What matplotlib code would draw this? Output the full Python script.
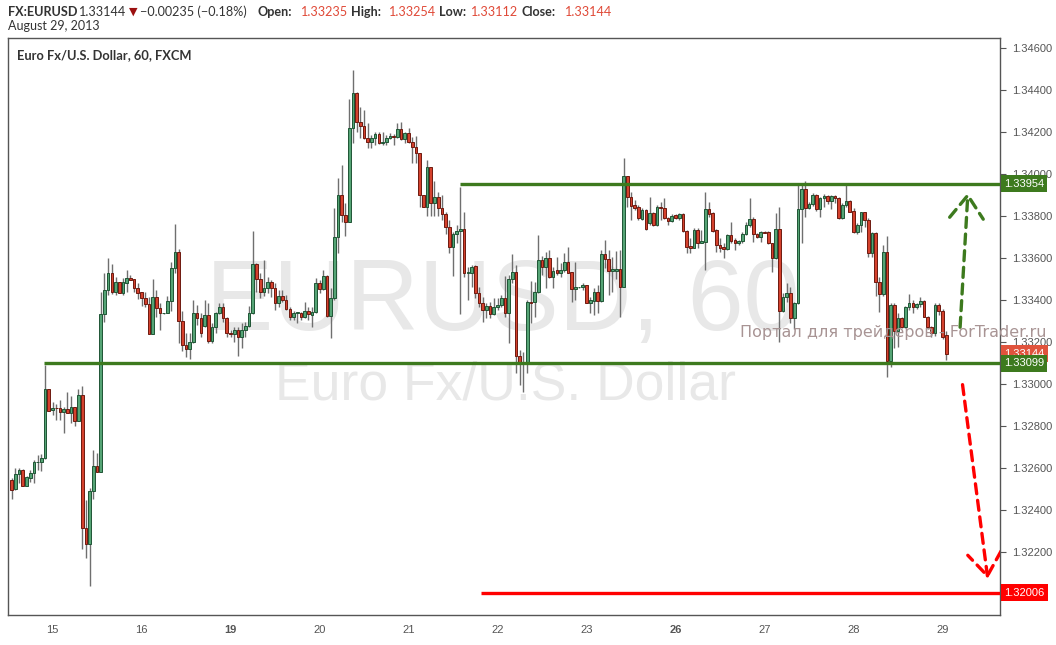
import matplotlib
matplotlib.use('Agg')
import matplotlib.pyplot as plt
import matplotlib.transforms as mtransforms
from matplotlib.patches import FancyArrowPatch

# EUR/USD, 1 hour bars, Aug 14 - Aug 29 2013 (FXCM)
opens = [
    1.32543, 1.32498, 1.32570, 1.32589, 1.32516, 1.32554, 1.32575, 1.32627, 1.32627, 1.32646,
    1.32975, 1.32875, 1.32887, 1.32886, 1.32868, 1.32881, 1.32864, 1.32889, 1.32825, 1.32948,
    1.32313, 1.32237, 1.32490, 1.32610, 1.32583, 1.33333, 1.33448, 1.33527, 1.33440, 1.33484,
    1.33432, 1.33483, 1.33503, 1.33498, 1.33456, 1.33437, 1.33408, 1.33379, 1.33236, 1.33413,
    1.33360, 1.33336, 1.33336, 1.33394, 1.33550, 1.33630, 1.33302, 1.33184, 1.33165, 1.33198,
    1.33337, 1.33313, 1.33278, 1.33329, 1.33206, 1.33270, 1.33337, 1.33368, 1.33313, 1.33245,
    1.33237, 1.33257, 1.33222, 1.33257, 1.33278, 1.33337, 1.33571, 1.33499, 1.33440, 1.33456,
    1.33484, 1.33456, 1.33384, 1.33419, 1.33400, 1.33357, 1.33317, 1.33339, 1.33340, 1.33317,
    1.33349, 1.33330, 1.33345, 1.33479, 1.33451, 1.33514, 1.33325, 1.33408, 1.33699, 1.33900,
    1.33805, 1.33773, 1.34218, 1.34384, 1.34246, 1.34229, 1.34173, 1.34154, 1.34170, 1.34190,
    1.34149, 1.34152, 1.34170, 1.34181, 1.34176, 1.34213, 1.34165, 1.34197, 1.34154, 1.34127,
    1.34099, 1.33900, 1.33841, 1.34032, 1.33860, 1.33889, 1.33837, 1.33809, 1.33746, 1.33651,
    1.33714, 1.33730, 1.33736, 1.33530, 1.33530, 1.33562, 1.33435, 1.33387, 1.33350, 1.33371,
    1.33332, 1.33368, 1.33376, 1.33408, 1.33337, 1.33498, 1.33532, 1.33135, 1.33106, 1.33098,
    1.33389, 1.33389, 1.33440, 1.33591, 1.33559, 1.33599, 1.33508, 1.33541, 1.33530, 1.33541,
    1.33579, 1.33532, 1.33451, 1.33460, 1.33460, 1.33471, 1.33387, 1.33397, 1.33437, 1.33397,
    1.33619, 1.33594, 1.33538, 1.33540, 1.33547, 1.33464, 1.33990, 1.33889, 1.33852, 1.33844,
    1.33787, 1.33829, 1.33768, 1.33816, 1.33757, 1.33841, 1.33836, 1.33789, 1.33778, 1.33803,
    1.33789, 1.33809, 1.33730, 1.33657, 1.33649, 1.33733, 1.33673, 1.33678, 1.33832, 1.33813,
    1.33733, 1.33660, 1.33651, 1.33641, 1.33708, 1.33686, 1.33670, 1.33681, 1.33714, 1.33757,
    1.33784, 1.33713, 1.33702, 1.33723, 1.33722, 1.33670, 1.33598, 1.33736, 1.33349, 1.33413,
    1.33432, 1.33313, 1.33384, 1.33832, 1.33927, 1.33836, 1.33855, 1.33900, 1.33832, 1.33887,
    1.33895, 1.33873, 1.33895, 1.33884, 1.33789, 1.33852, 1.33871, 1.33824, 1.33722, 1.33757,
    1.33817, 1.33781, 1.33622, 1.33717, 1.33484, 1.33427, 1.33628, 1.33111, 1.33376, 1.33250,
    1.33313, 1.33273, 1.33365, 1.33384, 1.33368, 1.33379, 1.33395, 1.33321, 1.33273, 1.33244,
    1.33376, 1.33349, 1.33235,
]
highs = [
    1.32550, 1.32598, 1.32598, 1.32594, 1.32562, 1.32590, 1.32638, 1.32662, 1.32665, 1.33090,
    1.32975, 1.32916, 1.32905, 1.32924, 1.32892, 1.32962, 1.32944, 1.32892, 1.32975, 1.32991,
    1.32448, 1.32503, 1.32686, 1.32670, 1.33437, 1.33527, 1.33600, 1.33570, 1.33508, 1.33484,
    1.33503, 1.33543, 1.33519, 1.33498, 1.33483, 1.33440, 1.33437, 1.33416, 1.33500, 1.33448,
    1.33384, 1.33340, 1.33419, 1.33580, 1.33760, 1.33645, 1.33347, 1.33241, 1.33241, 1.33400,
    1.33376, 1.33337, 1.33400, 1.33384, 1.33289, 1.33345, 1.33384, 1.33384, 1.33321, 1.33257,
    1.33273, 1.33273, 1.33289, 1.33297, 1.33373, 1.33729, 1.33578, 1.33527, 1.33590, 1.33511,
    1.33495, 1.33480, 1.33448, 1.33448, 1.33424, 1.33368, 1.33349, 1.33345, 1.33345, 1.33389,
    1.33365, 1.33368, 1.33503, 1.33495, 1.33543, 1.33519, 1.33456, 1.33837, 1.33979, 1.34043,
    1.33860, 1.34356, 1.34495, 1.34389, 1.34321, 1.34305, 1.34241, 1.34186, 1.34202, 1.34202,
    1.34202, 1.34186, 1.34194, 1.34190, 1.34241, 1.34249, 1.34202, 1.34218, 1.34178, 1.34181,
    1.34099, 1.33900, 1.34067, 1.34035, 1.33967, 1.33916, 1.33900, 1.33820, 1.33781, 1.33726,
    1.33757, 1.33940, 1.33821, 1.33559, 1.33567, 1.33567, 1.33464, 1.33416, 1.33384, 1.33392,
    1.33408, 1.33408, 1.33424, 1.33514, 1.33519, 1.33619, 1.33567, 1.33162, 1.33154, 1.33400,
    1.33492, 1.33487, 1.33709, 1.33610, 1.33630, 1.33638, 1.33559, 1.33606, 1.33575, 1.33622,
    1.33654, 1.33535, 1.33583, 1.33464, 1.33479, 1.33471, 1.33416, 1.33456, 1.33471, 1.33638,
    1.33686, 1.33638, 1.33606, 1.33635, 1.33638, 1.34075, 1.33990, 1.33916, 1.33876, 1.33852,
    1.33837, 1.33832, 1.33892, 1.33821, 1.33852, 1.33868, 1.33884, 1.33797, 1.33808, 1.33808,
    1.33816, 1.33813, 1.33733, 1.33694, 1.33741, 1.33741, 1.33733, 1.33916, 1.33868, 1.33821,
    1.33736, 1.33694, 1.33673, 1.33714, 1.33773, 1.33694, 1.33686, 1.33725, 1.33773, 1.33884,
    1.33797, 1.33717, 1.33729, 1.33729, 1.33729, 1.33670, 1.33816, 1.33844, 1.33435, 1.33479,
    1.33460, 1.33392, 1.33956, 1.33956, 1.33967, 1.33865, 1.33911, 1.33905, 1.33892, 1.33905,
    1.33900, 1.33900, 1.33900, 1.33892, 1.33860, 1.33959, 1.33876, 1.33836, 1.33765, 1.33821,
    1.33821, 1.33789, 1.33725, 1.33725, 1.33511, 1.33662, 1.33705, 1.33384, 1.33384, 1.33336,
    1.33321, 1.33370, 1.33429, 1.33400, 1.33384, 1.33416, 1.33400, 1.33325, 1.33275, 1.33384,
    1.33384, 1.33355, 1.33254,
]
lows = [
    1.32452, 1.32495, 1.32530, 1.32516, 1.32516, 1.32535, 1.32530, 1.32590, 1.32587, 1.32643,
    1.32873, 1.32852, 1.32829, 1.32829, 1.32768, 1.32860, 1.32813, 1.32800, 1.32822, 1.32216,
    1.32173, 1.32040, 1.32452, 1.32583, 1.32583, 1.33297, 1.33425, 1.33427, 1.33424, 1.33432,
    1.33424, 1.33440, 1.33495, 1.33437, 1.33403, 1.33373, 1.33368, 1.33236, 1.33236, 1.33320,
    1.33257, 1.33334, 1.33336, 1.33349, 1.33530, 1.33197, 1.33159, 1.33130, 1.33119, 1.33194,
    1.33281, 1.33225, 1.33273, 1.33194, 1.33194, 1.33241, 1.33331, 1.33297, 1.33225, 1.33225,
    1.33202, 1.33135, 1.33170, 1.33225, 1.33273, 1.33333, 1.33440, 1.33408, 1.33419, 1.33432,
    1.33413, 1.33352, 1.33368, 1.33392, 1.33352, 1.33305, 1.33305, 1.33289, 1.33305, 1.33313,
    1.33305, 1.33273, 1.33340, 1.33432, 1.33448, 1.33321, 1.33217, 1.33400, 1.33625, 1.33773,
    1.33706, 1.33770, 1.34149, 1.34202, 1.34170, 1.34165, 1.34125, 1.34122, 1.34138, 1.34143,
    1.34138, 1.34138, 1.34165, 1.34138, 1.34170, 1.34162, 1.34149, 1.34146, 1.34051, 1.34051,
    1.33845, 1.33841, 1.33800, 1.33800, 1.33800, 1.33800, 1.33780, 1.33714, 1.33622, 1.33516,
    1.33670, 1.33333, 1.33511, 1.33400, 1.33464, 1.33408, 1.33368, 1.33297, 1.33313, 1.33313,
    1.33329, 1.33352, 1.33368, 1.33321, 1.33194, 1.33479, 1.33051, 1.32995, 1.32964, 1.33051,
    1.33289, 1.33321, 1.33432, 1.33519, 1.33456, 1.33503, 1.33456, 1.33519, 1.33511, 1.33535,
    1.33527, 1.33392, 1.33400, 1.33456, 1.33448, 1.33384, 1.33336, 1.33329, 1.33336, 1.33392,
    1.33551, 1.33424, 1.33440, 1.33500, 1.33321, 1.33460, 1.33844, 1.33781, 1.33829, 1.33781,
    1.33781, 1.33733, 1.33757, 1.33752, 1.33752, 1.33781, 1.33784, 1.33757, 1.33773, 1.33784,
    1.33781, 1.33725, 1.33622, 1.33625, 1.33646, 1.33646, 1.33670, 1.33543, 1.33797, 1.33725,
    1.33630, 1.33630, 1.33599, 1.33638, 1.33670, 1.33638, 1.33662, 1.33673, 1.33709, 1.33749,
    1.33678, 1.33694, 1.33678, 1.33717, 1.33667, 1.33535, 1.33593, 1.33202, 1.33344, 1.33392,
    1.33289, 1.33262, 1.33381, 1.33673, 1.33794, 1.33832, 1.33848, 1.33825, 1.33797, 1.33844,
    1.33857, 1.33832, 1.33860, 1.33786, 1.33786, 1.33844, 1.33817, 1.33717, 1.33713, 1.33725,
    1.33749, 1.33603, 1.33603, 1.33419, 1.33344, 1.33419, 1.33035, 1.33083, 1.33170, 1.33178,
    1.33265, 1.33265, 1.33352, 1.33340, 1.33357, 1.33368, 1.33317, 1.33260, 1.33225, 1.33230,
    1.33330, 1.33215, 1.33112,
]
closes = [
    1.32495, 1.32570, 1.32589, 1.32516, 1.32556, 1.32575, 1.32627, 1.32628, 1.32646, 1.32975,
    1.32873, 1.32886, 1.32885, 1.32868, 1.32881, 1.32864, 1.32889, 1.32825, 1.32948, 1.32313,
    1.32237, 1.32490, 1.32610, 1.32583, 1.33333, 1.33448, 1.33527, 1.33440, 1.33484, 1.33432,
    1.33484, 1.33503, 1.33497, 1.33456, 1.33435, 1.33408, 1.33379, 1.33236, 1.33413, 1.33360,
    1.33336, 1.33337, 1.33394, 1.33550, 1.33630, 1.33302, 1.33184, 1.33165, 1.33198, 1.33337,
    1.33313, 1.33241, 1.33329, 1.33206, 1.33270, 1.33337, 1.33368, 1.33313, 1.33245, 1.33237,
    1.33257, 1.33222, 1.33257, 1.33278, 1.33337, 1.33571, 1.33499, 1.33440, 1.33456, 1.33484,
    1.33456, 1.33384, 1.33419, 1.33400, 1.33357, 1.33317, 1.33337, 1.33341, 1.33317, 1.33349,
    1.33332, 1.33345, 1.33479, 1.33451, 1.33514, 1.33325, 1.33408, 1.33699, 1.33900, 1.33805,
    1.33773, 1.34218, 1.34384, 1.34246, 1.34229, 1.34173, 1.34154, 1.34170, 1.34190, 1.34149,
    1.34152, 1.34170, 1.34181, 1.34176, 1.34213, 1.34165, 1.34197, 1.34154, 1.34127, 1.34099,
    1.33900, 1.33841, 1.34032, 1.33860, 1.33889, 1.33837, 1.33809, 1.33746, 1.33651, 1.33714,
    1.33730, 1.33736, 1.33530, 1.33532, 1.33559, 1.33435, 1.33387, 1.33350, 1.33371, 1.33332,
    1.33368, 1.33376, 1.33408, 1.33337, 1.33498, 1.33532, 1.33135, 1.33106, 1.33098, 1.33389,
    1.33387, 1.33440, 1.33591, 1.33559, 1.33599, 1.33508, 1.33540, 1.33530, 1.33541, 1.33579,
    1.33530, 1.33451, 1.33460, 1.33461, 1.33471, 1.33387, 1.33400, 1.33437, 1.33397, 1.33619,
    1.33594, 1.33538, 1.33546, 1.33547, 1.33464, 1.33990, 1.33889, 1.33849, 1.33840, 1.33789,
    1.33829, 1.33736, 1.33813, 1.33757, 1.33841, 1.33836, 1.33789, 1.33778, 1.33802, 1.33789,
    1.33809, 1.33730, 1.33654, 1.33649, 1.33733, 1.33673, 1.33681, 1.33832, 1.33809, 1.33730,
    1.33660, 1.33649, 1.33641, 1.33708, 1.33683, 1.33670, 1.33681, 1.33714, 1.33757, 1.33784,
    1.33713, 1.33702, 1.33722, 1.33721, 1.33670, 1.33598, 1.33736, 1.33349, 1.33413, 1.33432,
    1.33313, 1.33384, 1.33832, 1.33927, 1.33836, 1.33855, 1.33900, 1.33832, 1.33887, 1.33895,
    1.33873, 1.33895, 1.33884, 1.33789, 1.33852, 1.33871, 1.33821, 1.33722, 1.33757, 1.33817,
    1.33781, 1.33622, 1.33717, 1.33484, 1.33427, 1.33628, 1.33111, 1.33376, 1.33250, 1.33313,
    1.33273, 1.33365, 1.33384, 1.33368, 1.33379, 1.33395, 1.33321, 1.33273, 1.33244, 1.33376,
    1.33349, 1.33222, 1.33144,
]

# day separators (bar index of the first bar of each session) and labels
day_ticks = [11, 35, 59, 83, 107, 131, 155, 179, 203, 227, 251]
day_labels = ['15', '16', '19', '20', '21', '22', '23', '26', '27', '28', '29']
bold_days = ['19', '26']

price_ticks = [1.322, 1.324, 1.326, 1.328, 1.330, 1.332, 1.334,
               1.336, 1.338, 1.340, 1.342, 1.344, 1.346]

# drawn levels: price, first bar
levels = [1.33954, 1.33099, 1.32006]
level_start = [120.9, 8.7, 126.6]
last_price = 1.33144

GREEN_LVL = '#3d7a1e'
RED_LVL = '#ff0000'
UP_FILL, UP_EDGE = '#55a475', '#1f5535'
DN_FILL, DN_EDGE = '#d4412d', '#6e1a10'

fig = plt.figure(figsize=(10.56, 6.45), dpi=100)
ax = fig.add_axes([8 / 1056, 30 / 645, 992 / 1056, 577 / 645])
ax.set_xlim(-1.0, 266.5)
ax.set_ylim(1.31900, 1.346476)

# watermark
ax.text(0.499, 0.494, 'EURUSD, 60', transform=ax.transAxes, ha='center', va='baseline',
        fontsize=72.5, color='#e8e8e8', family='Liberation Sans', zorder=0)
ax.text(0.502, 0.373, 'Euro Fx/U.S. Dollar', transform=ax.transAxes, ha='center', va='baseline',
        fontsize=38.5, color='#e8e8e8', family='Liberation Sans', zorder=0)

# candles
xs = list(range(len(opens)))
ax.vlines(xs, lows, highs, color='#6f6f6f', lw=1, zorder=2)
bottoms = [min(o, c) for o, c in zip(opens, closes)]
heights = [max(abs(c - o), 0.000004) for o, c in zip(opens, closes)]
fills = [UP_FILL if c >= o else DN_FILL for o, c in zip(opens, closes)]
edges = [UP_EDGE if c >= o else DN_EDGE for o, c in zip(opens, closes)]
ax.bar(xs, heights, bottom=bottoms, width=0.72, color=fills, edgecolor=edges,
       linewidth=0.7, zorder=3)

# support / resistance / target
lvl_colors = [GREEN_LVL, GREEN_LVL, RED_LVL]
ax.hlines(levels, level_start, 266.5, colors=lvl_colors, lw=2.4, zorder=4)

# projection arrows (dashed)
arrows = [((255.7, 1.33257), (257.9, 1.33925), GREEN_LVL),
          ((256.3, 1.33010), (263.3, 1.32060), RED_LVL)]
for start, end, col in arrows:
    ax.add_patch(FancyArrowPatch(start, end, arrowstyle='->,head_length=0.75,head_width=0.55',
                                 mutation_scale=22, color=col, lw=2.4,
                                 linestyle=(0, (3, 2)), zorder=5))

# axes styling
for sp in ax.spines.values():
    sp.set_color('#555555')
    sp.set_linewidth(1)
ax.yaxis.tick_right()
ax.set_yticks(price_ticks)
ax.set_yticklabels(['%.5f' % p for p in price_ticks])
ax.tick_params(axis='y', length=4, pad=5, labelsize=8, colors='#555555')
ax.set_xticks(day_ticks)
ax.set_xticklabels(day_labels)
ax.tick_params(axis='x', length=0, pad=7, labelsize=8, colors='#555555')
for lab in ax.get_xticklabels() + ax.get_yticklabels():
    lab.set_family('Liberation Sans')
    if lab.get_text() in bold_days:
        lab.set_fontweight('bold')

# price boxes on the scale
trans = mtransforms.blended_transform_factory(ax.transAxes, ax.transData)
boxes = [(last_price, '#e0533d'), (levels[0], GREEN_LVL), (levels[1], GREEN_LVL),
         (levels[2], RED_LVL)]
for price, col in boxes:
    ax.text(1.004, price, '%.5f' % price, transform=trans, ha='left', va='center',
            fontsize=8, color='white', family='Liberation Sans', clip_on=False, zorder=6,
            bbox=dict(boxstyle='square,pad=0.3', fc=col, ec='none'))

# site caption
fig.text(740 / 1056, 1 - 333 / 645, 'Портал для трейдеров - ForTrader.ru', ha='left',
         va='center', fontsize=11.5, color='#a89494', family='DejaVu Sans', zorder=7)

# header
W, H = 1056, 645
hy = 1 - 12 / H
hdr = [(8, 'FX:EURUSD', 'bold', '#333333'), (79, '1.33144', 'normal', '#333333'),
       (140, '\u22120.00235 (\u22120.18%)', 'normal', '#333333'),
       (258, 'Open:', 'bold', '#333333'), (301, '1.33235', 'normal', '#e04a38'),
       (351, 'High:', 'bold', '#333333'), (389, '1.33254', 'normal', '#e04a38'),
       (439, 'Low:', 'bold', '#333333'), (471, '1.33112', 'normal', '#e04a38'),
       (522, 'Close:', 'bold', '#333333'), (565, '1.33144', 'normal', '#e04a38')]
for px, s, w, c in hdr:
    fig.text(px / W, hy, s, ha='left', va='center', fontsize=9.1, fontweight=w, color=c,
             family='Lato')
fig.text(129 / W, hy, '\u25bc', ha='left', va='center', fontsize=8, color='#9b1010',
         family='DejaVu Sans')
fig.text(8 / W, 1 - 26 / H, 'August 29, 2013', ha='left', va='center', fontsize=9,
         color='#333333', family='Lato')
fig.text(17 / W, 1 - 55 / H, 'Euro Fx/U.S. Dollar, 60, FXCM', ha='left', va='center',
         fontsize=9.3, fontweight='bold', color='#333333', family='Lato')

fig.savefig('out.png', dpi=100)
